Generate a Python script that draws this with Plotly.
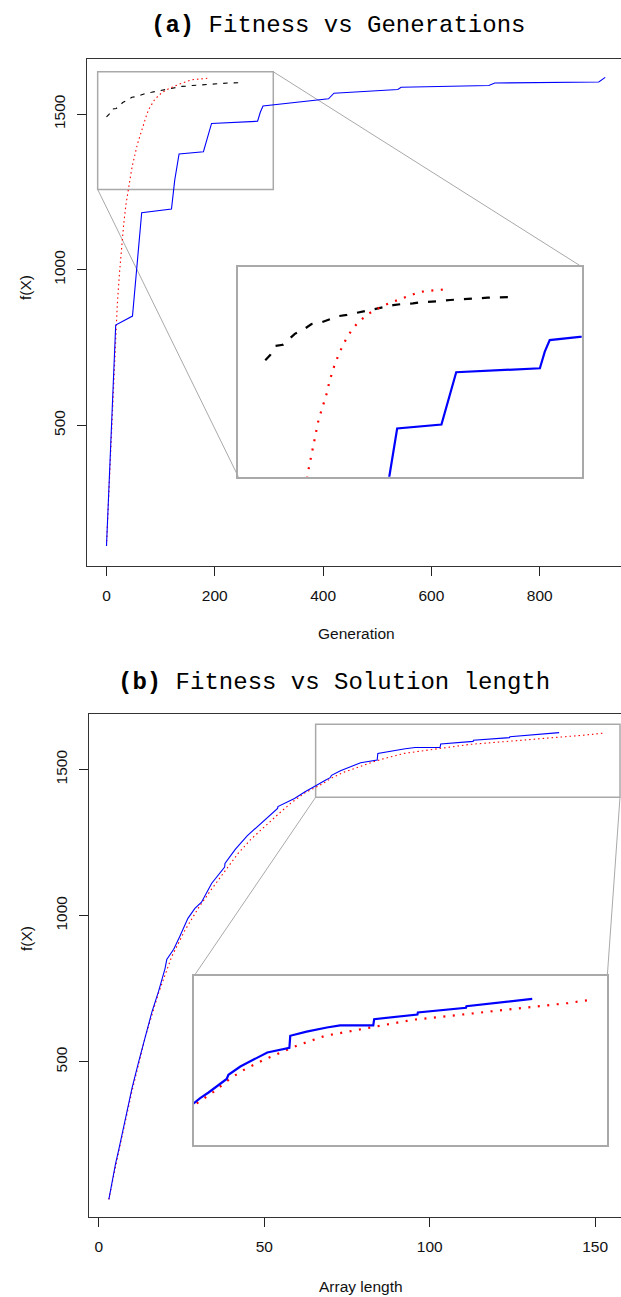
import plotly.graph_objects as go

# ---------------- data ----------------
# Panel (a): fitness vs generations
gen_blue_x = [0, 17, 48, 65, 120, 126, 134, 179, 194, 279, 284, 289, 410, 420, 538, 544, 706, 717, 909, 921]
gen_blue_y = [112, 822, 851, 1183, 1195, 1288, 1372, 1379, 1470, 1477, 1506, 1526, 1549, 1567, 1579, 1586, 1592, 1600, 1603, 1618]

gen_red_x = [0, 17.5, 20, 24, 28, 32, 36, 40, 44, 46, 48, 50, 52, 54, 57, 60, 63, 65, 68, 71, 75, 79, 84, 89,
             96, 103, 112, 121, 130, 139, 148, 157, 167, 176, 186]
gen_red_y = [112, 822, 890, 990, 1075, 1150, 1210, 1258, 1301, 1318, 1336, 1352, 1370, 1386, 1403, 1420, 1436,
             1453, 1469, 1486, 1502, 1518, 1533, 1547, 1559, 1570, 1579, 1587, 1593, 1599, 1604, 1610, 1612, 1614, 1615]

gen_black_x = [0, 5, 10, 18, 25, 30, 41, 47, 57, 65, 75, 83, 94, 101, 112, 120, 130, 139, 150, 157, 169, 177,
               188, 196, 207, 226, 250]
gen_black_y = [1491, 1500, 1516, 1518, 1529, 1537, 1547, 1554, 1557, 1562, 1568, 1570, 1574, 1576, 1580, 1584,
               1587, 1589, 1590, 1592, 1593, 1594, 1596, 1597, 1598, 1600, 1601]

# Panel (b): fitness vs solution (array) length
len_blue_x = [3, 4, 5, 6, 8, 10, 12, 14, 16, 18, 20, 20.5, 22.6, 24.4, 26.9, 29, 31, 34.1, 38, 38.1, 41.2, 44.8,
              48.4, 54, 54.1, 59.1, 62.3, 63.9, 65.8, 68.3, 69.9, 70.3, 73, 79.1, 84.1, 84.3, 88, 92.6, 95.6,
              103.1, 103.3, 113.1, 113.2, 124.1, 124.2, 139.1]
len_blue_y = [30, 95, 150, 200, 310, 410, 500, 590, 670, 740, 820, 850, 885, 928, 991, 1025, 1046, 1111, 1166,
              1179, 1227, 1273, 1310, 1367, 1373, 1401, 1424, 1435, 1446, 1462, 1472, 1480, 1496, 1523, 1532,
              1555, 1563, 1571, 1575, 1575, 1587, 1596, 1600, 1609, 1612, 1626]

len_red_x = [3, 6, 10, 14, 18, 20, 22, 26, 30, 34, 38, 42, 46, 50, 54, 58, 62.4, 66.9, 70.7, 74.1, 78.6, 83.1,
             86.1, 92.2, 98.6, 105.4, 112.2, 119, 125.7, 132.9, 140.4, 147.2, 153]
len_red_y = [30, 195, 400, 585, 735, 800, 860, 950, 1025, 1090, 1150, 1212, 1262, 1305, 1345, 1385, 1421, 1447,
             1473, 1491, 1510, 1527, 1537, 1555, 1565, 1576, 1586, 1592, 1598, 1605, 1612, 1618, 1625]

gen_ticks = [0, 200, 400, 600, 800]
len_ticks = [0, 50, 100, 150]
fit_ticks = [500, 1000, 1500]

# ---------------- layout geometry (pixels) ----------------
W, H = 621, 1297
A = dict(l=87, r=621, t=59, b=566, xr=[-36.0, 950.1], yr=[48, 1677])
B = dict(l=89, r=621, t=714, b=1217, xr=[-3.0, 157.8], yr=[-30.6, 1689.8])
IA = dict(l=238.3, r=581.7, t=266.7, b=476.7, xr=[-27.4, 321.5], yr=[1288, 1654])
IB = dict(l=194, r=607.3, t=976, b=1145, xr=[62.5, 156.1], yr=[1345, 1670])
SA = dict(x0=-16.3, x1=308, y0=1258, y1=1636)   # zoom source rectangle, panel a (data)
SB = dict(x0=65.5, x1=157.5, y0=1405, y1=1654.6)  # zoom source rectangle, panel b (data)


def dom_x(g):
    return [g['l'] / W, g['r'] / W]


def dom_y(g):
    return [1 - g['b'] / H, 1 - g['t'] / H]


def px_of_x(g, v):
    r0, r1 = g['xr']
    return g['l'] + (v - r0) / (r1 - r0) * (g['r'] - g['l'])


def py_of_y(g, v):
    r0, r1 = g['yr']
    return g['b'] - (v - r0) / (r1 - r0) * (g['b'] - g['t'])


BLUE, RED, BLACK, GRAY = '#0000ff', '#ff0000', '#000000', '#a9a9a9'

fig = go.Figure()

# panel a main
fig.add_trace(go.Scatter(x=gen_black_x, y=gen_black_y, mode='lines', xaxis='x', yaxis='y',
                         line=dict(color=BLACK, width=1.1, dash='4.5px,6px')))
fig.add_trace(go.Scatter(x=gen_red_x, y=gen_red_y, mode='lines', xaxis='x', yaxis='y',
                         line=dict(color=RED, width=1.1, dash='1.5px,3px')))
fig.add_trace(go.Scatter(x=gen_blue_x, y=gen_blue_y, mode='lines', xaxis='x', yaxis='y',
                         line=dict(color=BLUE, width=1.1)))
# panel a inset
fig.add_trace(go.Scatter(x=gen_black_x, y=gen_black_y, mode='lines', xaxis='x3', yaxis='y3',
                         line=dict(color=BLACK, width=2.2, dash='8px,10px')))
fig.add_trace(go.Scatter(x=gen_red_x, y=gen_red_y, mode='lines', xaxis='x3', yaxis='y3',
                         line=dict(color=RED, width=2.2, dash='2px,7.5px')))
fig.add_trace(go.Scatter(x=gen_blue_x, y=gen_blue_y, mode='lines', xaxis='x3', yaxis='y3',
                         line=dict(color=BLUE, width=2.2)))
# panel b main
fig.add_trace(go.Scatter(x=len_red_x, y=len_red_y, mode='lines', xaxis='x2', yaxis='y2',
                         line=dict(color=RED, width=1.1, dash='1.5px,3px')))
fig.add_trace(go.Scatter(x=len_blue_x, y=len_blue_y, mode='lines', xaxis='x2', yaxis='y2',
                         line=dict(color=BLUE, width=1.1)))
# panel b inset
fig.add_trace(go.Scatter(x=len_red_x, y=len_red_y, mode='lines', xaxis='x4', yaxis='y4',
                         line=dict(color=RED, width=2.2, dash='2px,7.5px')))
fig.add_trace(go.Scatter(x=len_blue_x, y=len_blue_y, mode='lines', xaxis='x4', yaxis='y4',
                         line=dict(color=BLUE, width=2.2)))

tickfont = dict(family='Liberation Sans, Arial, sans-serif', size=15.5, color='#111')
main_x = dict(showgrid=False, zeroline=False, showline=True, mirror=True, linecolor='#333', linewidth=1.2,
              ticks='outside', ticklen=9, tickwidth=1.1, tickcolor='#222', tickfont=tickfont,
              ticklabelstandoff=6)
main_y = dict(showgrid=False, zeroline=False, showline=True, mirror=False, linecolor='#333', linewidth=1.2,
              ticks='outside', ticklen=9, tickwidth=1.1, tickcolor='#222', tickfont=tickfont,
              tickangle=-90, tickvals=fit_ticks, ticklabelstandoff=6)
inset_ax = dict(showgrid=False, zeroline=False, showline=True, mirror=True, linecolor=GRAY, linewidth=1.5,
                ticks='', showticklabels=False)

shapes = [
    dict(type='rect', xref='x', yref='y', x0=SA['x0'], x1=SA['x1'], y0=SA['y0'], y1=SA['y1'],
         line=dict(color=GRAY, width=1.5), layer='below'),
    dict(type='rect', xref='x2', yref='y2', x0=SB['x0'], x1=SB['x1'], y0=SB['y0'], y1=SB['y1'],
         line=dict(color=GRAY, width=1.5), layer='below'),
    # connectors panel a
    dict(type='line', xref='paper', yref='paper',
         x0=px_of_x(A, SA['x1']) / W, y0=1 - py_of_y(A, SA['y1']) / H,
         x1=IA['r'] / W, y1=1 - IA['t'] / H, line=dict(color=GRAY, width=1), layer='below'),
    dict(type='line', xref='paper', yref='paper',
         x0=px_of_x(A, SA['x0']) / W, y0=1 - py_of_y(A, SA['y0']) / H,
         x1=IA['l'] / W, y1=1 - IA['b'] / H, line=dict(color=GRAY, width=1), layer='below'),
    # connectors panel b
    dict(type='line', xref='paper', yref='paper',
         x0=px_of_x(B, SB['x0']) / W, y0=1 - py_of_y(B, SB['y0']) / H,
         x1=IB['l'] / W, y1=1 - IB['t'] / H, line=dict(color=GRAY, width=1), layer='below'),
    dict(type='line', xref='paper', yref='paper',
         x0=px_of_x(B, SB['x1']) / W, y0=1 - py_of_y(B, SB['y0']) / H,
         x1=IB['r'] / W, y1=1 - IB['t'] / H, line=dict(color=GRAY, width=1), layer='below'),
]

labfont = dict(family='Liberation Sans, Arial, sans-serif', size=15.5, color='#111')
titlefont = dict(family='Liberation Mono, Courier New, monospace', size=24, color='#000')
annotations = [
    dict(text='<b>(a)</b> Fitness vs Generations', x=338 / W, y=1 - 25 / H, xref='paper', yref='paper',
         xanchor='center', yanchor='middle', showarrow=False, font=titlefont),
    dict(text='<b>(b)</b> Fitness vs Solution length', x=334 / W, y=1 - 682 / H, xref='paper', yref='paper',
         xanchor='center', yanchor='middle', showarrow=False, font=titlefont),
    dict(text='Generation', x=356 / W, y=1 - 633 / H, xref='paper', yref='paper',
         xanchor='center', yanchor='middle', showarrow=False, font=labfont),
    dict(text='Array length', x=361 / W, y=1 - 1286 / H, xref='paper', yref='paper',
         xanchor='center', yanchor='middle', showarrow=False, font=labfont),
    dict(text='f(X)', x=25 / W, y=1 - 288 / H, xref='paper', yref='paper', textangle=-90,
         xanchor='center', yanchor='middle', showarrow=False, font=labfont),
    dict(text='f(X)', x=26 / W, y=1 - 939 / H, xref='paper', yref='paper', textangle=-90,
         xanchor='center', yanchor='middle', showarrow=False, font=labfont),
]

fig.update_layout(
    width=W, height=H, margin=dict(l=0, r=0, t=0, b=0),
    paper_bgcolor='white', plot_bgcolor='rgba(0,0,0,0)', showlegend=False,
    xaxis=dict(main_x, domain=dom_x(A), range=A['xr'], tickvals=gen_ticks, anchor='y'),
    yaxis=dict(main_y, domain=dom_y(A), range=A['yr'], anchor='x'),
    xaxis2=dict(main_x, domain=dom_x(B), range=B['xr'], tickvals=len_ticks, anchor='y2'),
    yaxis2=dict(main_y, domain=dom_y(B), range=B['yr'], anchor='x2'),
    xaxis3=dict(inset_ax, domain=dom_x(IA), range=IA['xr'], anchor='y3'),
    yaxis3=dict(inset_ax, domain=dom_y(IA), range=IA['yr'], anchor='x3'),
    xaxis4=dict(inset_ax, domain=dom_x(IB), range=IB['xr'], anchor='y4'),
    yaxis4=dict(inset_ax, domain=dom_y(IB), range=IB['yr'], anchor='x4'),
    shapes=shapes, annotations=annotations,
)

fig.write_html('out.html', config={'displayModeBar': False},
               post_script="document.body.style.margin='0px';document.body.style.overflow='hidden';")
